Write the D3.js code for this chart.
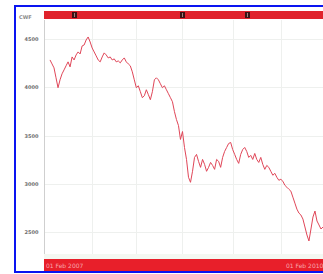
<!DOCTYPE html>
<meta charset="utf-8">
<style>
body { margin: 0; background: #fff; }
.grid line { stroke: #eef0ee; }
.axis text { fill: #6e6e6e; font: bold 5px "DejaVu Sans", sans-serif; }
.price { fill: none; stroke: #e04658; stroke-width: 1; stroke-linejoin: round; }
</style>
<svg width="323" height="274"></svg>
<script src="https://d3js.org/d3.v7.min.js"></script>
<script>

// closing values, one every few trading days
var prices = [4283, 4242, 4201,
  4098, 3995, 4077, 4139, 4180, 4222, 4263, 4211, 4314, 4283, 4335, 4366, 4345, 4428, 4438, 4490, 4521,
  4469, 4407, 4366, 4325, 4283, 4263, 4314, 4356, 4335, 4304, 4314, 4283, 4294, 4263, 4273, 4253, 4283,
  4304, 4263, 4242, 4222, 4160, 4077, 3995, 4015, 3954, 3892, 3912, 3974, 3923, 3871, 3954, 4077, 4098,
  4077, 4036, 3995, 4015, 3974, 3933, 3892, 3850, 3747, 3665, 3603, 3459,
  3541, 3376, 3252, 3067, 3015, 3129, 3273, 3304, 3232, 3170, 3252, 3201, 3129, 3170, 3221, 3190, 3149,
  3252, 3232, 3170, 3273, 3335, 3376, 3417, 3428, 3355, 3304, 3252, 3211, 3304, 3355, 3376, 3335, 3273,
  3294, 3252, 3314, 3252, 3221, 3273, 3201, 3149, 3190, 3170, 3129, 3088, 3108, 3067, 3036, 3046, 3026,
  2984, 2964, 2943, 2923, 2861, 2799, 2737, 2696, 2676, 2634, 2552, 2469, 2407, 2531, 2655, 2717, 2614,
  2573, 2531, 2552];
var yTicks = [2500, 3000, 3500, 4000, 4500];
var gridCols = [21, 43, 66, 91, 115];   // series index of vertical grid lines
var markers = [12, 66, 98];              // series index of event flags
var symbol = "CWF";
var startLabel = "01 Feb 2007", endLabel = "01 Feb 2010";

var svg = d3.select("svg");

var x = d3.scaleLinear().domain([0, prices.length - 1]).range([50, 323]);
var y = d3.scaleLinear().domain([2500, 4500]).range([232, 39]);

// frame
svg.append("rect")
    .attr("x", 15).attr("y", 6).attr("width", 330).attr("height", 266)
    .attr("fill", "#fff").attr("stroke", "#0a14f0").attr("stroke-width", 2);

var grid = svg.append("g").attr("class", "grid");
grid.selectAll(".h").data(yTicks).enter().append("line")
    .attr("x1", 45).attr("x2", 323)
    .attr("y1", function(d) { return Math.round(y(d)) + 0.5; })
    .attr("y2", function(d) { return Math.round(y(d)) + 0.5; });
grid.selectAll(".v").data(gridCols).enter().append("line")
    .attr("x1", function(d) { return Math.round(x(d)) + 0.5; })
    .attr("x2", function(d) { return Math.round(x(d)) + 0.5; })
    .attr("y1", 20).attr("y2", 258);

// y axis
var yAxis = svg.append("g")
    .attr("class", "axis")
    .attr("transform", "translate(44.5,0)")
    .call(d3.axisLeft(y).tickValues(yTicks).tickFormat(d3.format("d")).tickSize(0).tickPadding(6));
yAxis.select(".domain").attr("stroke", "#cfcfcf").attr("d", "M0,20V259");

svg.append("text")
    .attr("x", 19).attr("y", 19)
    .attr("fill", "#8a8a8a").style("font", "bold 5px 'DejaVu Sans', sans-serif")
    .text(symbol);

// top bar
svg.append("rect")
    .attr("x", 44).attr("y", 11).attr("width", 290).attr("height", 8)
    .attr("fill", "#e0232c");
svg.selectAll(".marker").data(markers).enter().append("rect")
    .attr("x", function(d) { return Math.round(x(d)) - 2; })
    .attr("y", 12).attr("width", 5).attr("height", 6)
    .attr("fill", "#3a1414");
svg.selectAll(".marker-in").data(markers).enter().append("rect")
    .attr("x", function(d) { return Math.round(x(d)); })
    .attr("y", 13).attr("width", 1).attr("height", 4)
    .attr("fill", "#a08080");

// light band + bottom bar
svg.append("rect")
    .attr("x", 44).attr("y", 254).attr("width", 290).attr("height", 5)
    .attr("fill", "#f4f8f2");
svg.append("rect")
    .attr("x", 44).attr("y", 259).attr("width", 290).attr("height", 12)
    .attr("fill", "#e81f2a");
svg.append("text")
    .attr("x", 46).attr("y", 268)
    .attr("fill", "#f7a8ad").style("font", "6px 'DejaVu Sans', sans-serif")
    .text(startLabel);
svg.append("text")
    .attr("x", 286).attr("y", 268)
    .attr("fill", "#f7a8ad").style("font", "6px 'DejaVu Sans', sans-serif")
    .text(endLabel);

// price line
var line = d3.line()
    .x(function(d, i) { return x(i); })
    .y(function(d) { return y(d); });

svg.append("path")
    .datum(prices)
    .attr("class", "price")
    .attr("d", line);

</script>
